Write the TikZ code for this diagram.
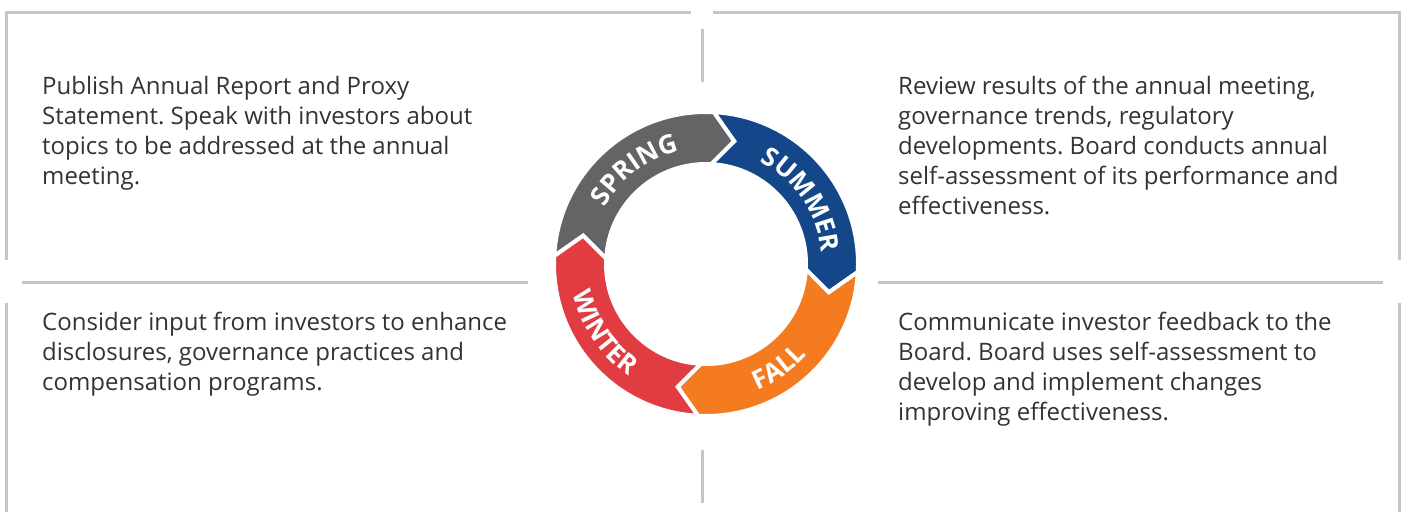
\documentclass[tikz,border=0pt]{standalone}
\usepackage{fontspec}
\setmainfont{Open Sans}
\usepackage{tikz}
\usetikzlibrary{decorations.text}
\definecolor{springgray}{HTML}{636466}
\definecolor{summerblue}{HTML}{13478A}
\definecolor{fallorange}{HTML}{F47B20}
\definecolor{winterred}{HTML}{E03C42}
\definecolor{framegray}{HTML}{C6C6C6}
\definecolor{bodytext}{HTML}{333333}
\frenchspacing
\tikzset{
    x=1pt, y=1pt, % one unit is one pixel of the target
    frame/.style={draw=framegray, line width=3pt}, % the grey rules
    blurb/.style={anchor=north west, align=left, inner sep=0pt, text=bodytext,
        font=\fontsize{24}{30}\selectfont}, % the four text blocks
    season/.style={fill=#1, draw=white, line width=4pt, line join=miter}, % one ring segment
    seasonlabel/.style={decorate, decoration={text along path, text align=center,
        text color=white, text={|\bfseries\fontsize{26}{26}\selectfont|#1}}},
    }
\begin{document}
\begin{tikzpicture}
\useasboundingbox (0,0) rectangle (1405,512);
% frame
\draw[frame] (691,499) -- (6,499) -- (6,252);
\draw[frame] (6,209) -- (6,0);
\draw[frame] (713,499) -- (1399,499) -- (1399,252);
\draw[frame] (1399,209) -- (1399,0);
\draw[frame] (702,483) -- (702,430);
\draw[frame] (702,62) -- (702,9);
\draw[frame] (22,230) -- (528,230);
\draw[frame] (878,230) -- (1383,230);
% text blocks
\node[blurb] (spring text) at (42,436) {Publish Annual Report and Proxy\\Statement. Speak with investors about\\topics to be addressed at the annual\\meeting.};
\node[blurb] (summer text) at (898,436) {Review results of the annual meeting,\\governance trends, regulatory\\developments. Board conducts annual\\self-assessment of its performance and\\effectiveness.};
\node[blurb] (winter text) at (42,200) {Consider input from investors to enhance\\disclosures, governance practices and\\compensation programs.};
\node[blurb] (fall text) at (898,200) {Communicate investor feedback to the\\Board. Board uses self-assessment to\\develop and implement changes\\improving effectiveness.};
% ring
\begin{scope}[shift={(706,248)}]
\foreach \col/\a in {springgray/177, summerblue/87, fallorange/-3, winterred/-93}{
    \pgfmathsetmacro{\b}{\a-90}
    \path[season=\col] (\a:152) arc[start angle=\a, end angle=\b, radius=152]
        -- (\b-10:126) -- (\b:100) arc[start angle=\b, end angle=\a, radius=100]
        -- (\a-10:126) -- cycle;
}
\path[seasonlabel=SPRING] (167:116) arc[start angle=167, end angle=87, radius=116];
\path[seasonlabel=SUMMER] (74:116) arc[start angle=74, end angle=-6, radius=116];
\path[seasonlabel=FALL] (-95:136) arc[start angle=-95, end angle=-15, radius=136];
\path[seasonlabel=WINTER] (174:136) arc[start angle=174, end angle=254, radius=136];
\end{scope}
\end{tikzpicture}
\end{document}
